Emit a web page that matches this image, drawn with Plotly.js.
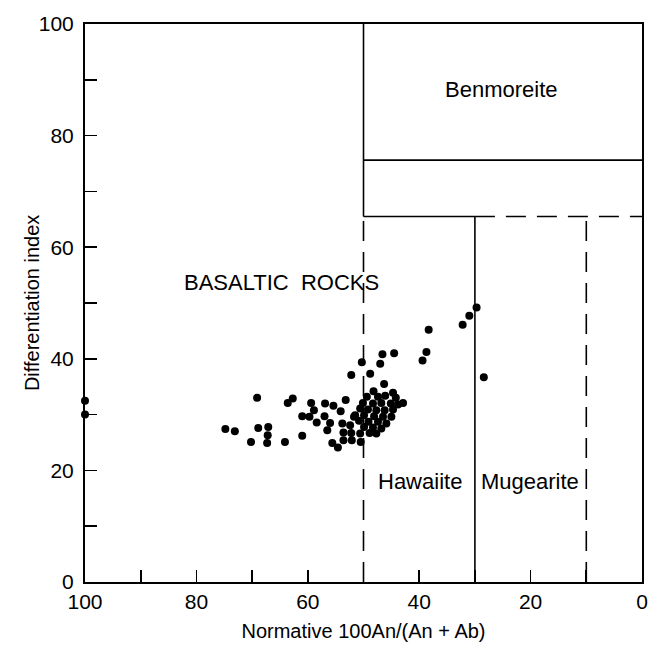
<!DOCTYPE html>
<html>
<head>
<meta charset="utf-8">
<script src="https://cdn.plot.ly/plotly-3.0.1.min.js"></script>
<style>html,body{margin:0;padding:0;background:#fff;}#chart{width:649px;height:649px;}</style>
</head>
<body>
<div id="chart"></div>
<script>
// Sample points: normative 100An/(An+Ab) and differentiation index
const anContent = [
  100, 100,
  29.7, 31.0, 32.2, 38.3, 38.7, 39.4, 28.4, 44.5, 46.6, 47.0, 50.3, 48.8, 52.2, 46.3,
  69.1, 62.7, 63.6, 59.4, 56.9, 55.4, 53.2, 58.9, 61.0, 59.7, 57.0, 54.1, 58.4, 56.0,
  56.5, 53.8, 74.8, 73.1, 68.9, 67.1, 67.2, 70.2, 67.3, 64.1, 61.0, 55.6, 54.6, 53.6,
  52.1, 50.5, 53.6, 52.2, 52.4, 51.7, 50.6,
  48.2, 49.4, 47.4, 46.1, 44.7, 44.2, 42.9, 50.1, 48.3, 46.8, 45.1, 43.8, 50.6, 49.2,
  47.7, 46.2, 44.7, 51.5, 49.9, 48.1, 46.5, 45.0, 50.8, 49.1, 47.4, 45.9, 49.9, 48.3,
  46.8, 48.9, 47.7
];
const diffIndex = [
  32.5, 30.0,
  49.2, 47.7, 46.1, 45.2, 41.2, 39.7, 36.7, 41.0, 40.8, 39.1, 39.4, 37.3, 37.1, 35.5,
  33.0, 32.9, 32.1, 32.1, 32.0, 31.6, 32.6, 30.8, 29.7, 29.6, 29.7, 30.6, 28.6, 28.5,
  27.2, 28.4, 27.4, 27.0, 27.6, 27.8, 26.3, 25.1, 24.9, 25.1, 26.2, 24.9, 24.1, 25.4,
  25.4, 25.1, 26.8, 26.7, 28.1, 29.6, 26.6,
  34.2, 33.2, 33.2, 33.4, 33.9, 33.0, 32.1, 32.1, 32.0, 32.1, 32.0, 31.8, 31.1, 30.9,
  30.8, 30.8, 30.9, 29.9, 29.9, 29.7, 29.6, 29.6, 28.9, 28.7, 28.7, 28.4, 27.8, 27.7,
  27.5, 26.7, 26.6
];

// Field boundaries (solid and dashed)
const solidX = [
  [50, 50], [50, 0], [50, 30], [30, 30]
];
const solidY = [
  [65.5, 100], [75.6, 75.6], [65.5, 65.5], [0, 65.5]
];
const dashedX = [
  [50, 50], [30, 0], [10, 10]
];
const dashedY = [
  [0, 65.5], [65.5, 65.5], [0, 65.5]
];

// Field labels
const labelText = ["Benmoreite", "BASALTIC  ROCKS", "Hawaiite", "Mugearite"];
const labelX = [25.3, 64.7, 39.9, 20.1];
const labelY = [88.2, 53.7, 18.1, 18.1];

const tickVals = [0, 10, 20, 30, 40, 50, 60, 70, 80, 90, 100];
const tickText = ["0", "", "20", "", "40", "", "60", "", "80", "", "100"];

const xTitle = 'Normative 100An/(An + Ab)';
const yTitle = 'Differentiation index';

const traces = [];
for (let i = 0; i < solidX.length; i++) {
  traces.push({x: solidX[i], y: solidY[i], mode: 'lines', type: 'scatter',
    line: {color: '#000', width: 1.6}, hoverinfo: 'skip', showlegend: false});
}
for (let i = 0; i < dashedX.length; i++) {
  traces.push({x: dashedX[i], y: dashedY[i], mode: 'lines', type: 'scatter',
    line: {color: '#000', width: 1.6, dash: '20px,11px'}, hoverinfo: 'skip', showlegend: false});
}
traces.push({x: anContent, y: diffIndex, mode: 'markers', type: 'scatter',
  marker: {color: '#000', size: 8}, showlegend: false, cliponaxis: false});

const fam = '"Liberation Sans", Arial, sans-serif';

const annotations = labelText.map((t, i) => ({
  x: labelX[i], y: labelY[i], xref: 'x', yref: 'y', text: t, showarrow: false,
  font: {family: fam, size: 22, color: '#000'}
}));
annotations.push({
  x: -0.095, y: 0.5, xref: 'paper', yref: 'paper', text: yTitle, showarrow: false,
  textangle: -90, xanchor: 'center', yanchor: 'middle',
  font: {family: fam, size: 20, color: '#000'}
});

const layout = {
  width: 649, height: 649,
  margin: {l: 85, r: 7, t: 24, b: 67},
  paper_bgcolor: '#fff', plot_bgcolor: '#fff',
  font: {family: fam, color: '#000'},
  showlegend: false,
  xaxis: {
    range: [100, 0], autorange: false,
    tickmode: 'array', tickvals: tickVals, ticktext: tickText,
    ticks: 'inside', ticklen: 12, tickwidth: 1.6, tickcolor: '#000',
    showline: true, linecolor: '#000', linewidth: 2, mirror: true,
    showgrid: false, zeroline: false,
    tickfont: {family: fam, size: 21, color: '#000'},
    title: {text: xTitle, font: {family: fam, size: 20, color: '#000'}, standoff: 12}
  },
  yaxis: {
    range: [0, 100], autorange: false,
    tickmode: 'array', tickvals: tickVals, ticktext: tickText,
    ticks: 'inside', ticklen: 12, tickwidth: 1.6, tickcolor: '#000',
    ticklabelstandoff: 5,
    showline: true, linecolor: '#000', linewidth: 2, mirror: true,
    showgrid: false, zeroline: false,
    tickfont: {family: fam, size: 21, color: '#000'}
  },
  annotations: annotations
};

Plotly.newPlot('chart', traces, layout, {displayModeBar: false, staticPlot: true});
</script>
</body>
</html>
